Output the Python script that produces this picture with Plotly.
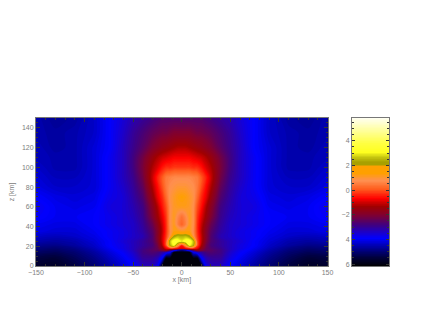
import numpy as np
import plotly.graph_objects as go

x_half = [0,4,8,12,16,20,25,30,40,50,60,75,90,110,130,150]
z_levels = [0,8,14,16,18,21,25,30,35,42,50,60,70,80,90,100,110,120,135,150]
row_z0   = [-6,-6,-6,-6,-6,-6,-3.7,-3.3,-3.3,-3.9,-4.2,-4.6,-5.0,-5.4,-5.7,-5.6]
row_z8   = [-6,-6,-6,-6,-6,-4.0,-3.2,-3.0,-3.0,-3.6,-4.0,-4.4,-4.8,-5.2,-5.5,-5.4]
row_z14  = [-6,-6,-6,-3.9,-3.4,-3.0,-2.7,-2.6,-2.8,-3.4,-3.8,-4.2,-4.6,-5.0,-5.2,-5.1]
row_z16  = [-5,-4.5,-3.5,-2.6,-1.6,-2.0,-2.4,-2.5,-2.8,-3.3,-3.7,-4.1,-4.5,-4.9,-5.1,-5.0]
row_z18  = [-0.8,-0.6,-0.3,-0.2,-0.7,-1.6,-2.3,-2.6,-2.9,-3.3,-3.6,-4.0,-4.4,-4.8,-5.0,-4.9]
row_z21  = [-0.5,1.0,3.2,2.4,0,-1.2,-2.2,-2.7,-3.0,-3.3,-3.6,-3.9,-4.3,-4.6,-4.8,-4.7]
row_z25  = [3.0,3.4,3.5,2.6,0,-1.0,-2,-2.6,-3.0,-3.3,-3.5,-3.9,-4.2,-4.5,-4.6,-4.5]
row_z30  = [2.5,2.6,2.2,0.9,-0.2,-1.0,-1.9,-2.6,-3.2,-3.4,-3.6,-3.8,-4.1,-4.3,-4.4,-4.3]
row_z35  = [1.2,1.3,1.3,0.7,-0.3,-1.1,-1.9,-2.5,-3.1,-3.4,-3.6,-3.8,-4.0,-4.2,-4.2,-4.1]
row_z42  = [0.2,0.6,1.2,0.8,-0.3,-1.0,-1.7,-2.3,-3.0,-3.4,-3.5,-3.7,-3.9,-4.1,-4.1,-4.0]
row_z50  = [0.4,0.7,1.2,0.8,-0.2,-0.8,-1.4,-2.0,-2.9,-3.3,-3.5,-3.7,-3.9,-4.0,-4.0,-3.8]
row_z60  = [1.2,1.2,1.1,0.8,0,-0.5,-1.2,-1.8,-2.8,-3.2,-3.5,-3.6,-4.0,-4.1,-4.0,-3.7]
row_z70  = [1.4,1.3,1.1,0.9,0.3,-0.3,-0.8,-1.5,-2.6,-3.1,-3.5,-3.7,-4.1,-4.2,-4.1,-3.9]
row_z80  = [1.0,1.0,0.9,0.8,0.5,0,-0.6,-1.2,-2.4,-3.0,-3.4,-3.8,-4.2,-4.3,-4.3,-4.1]
row_z90  = [0.7,0.7,0.7,0.6,0.5,0.1,-0.4,-1.0,-2.2,-2.9,-3.3,-3.8,-4.2,-4.4,-4.4,-4.2]
row_z100 = [-0.2,-0.2,-0.2,-0.3,-0.3,-0.5,-0.9,-1.2,-2.1,-2.8,-3.3,-3.8,-4.2,-4.5,-4.5,-4.3]
row_z110 = [-0.7,-0.7,-0.7,-0.8,-0.9,-1.0,-1.2,-1.5,-2.2,-2.8,-3.3,-3.8,-4.2,-4.5,-4.5,-4.4]
row_z120 = [-1.2,-1.2,-1.3,-1.4,-1.5,-1.6,-1.8,-2.0,-2.5,-2.9,-3.3,-3.9,-4.2,-4.5,-4.6,-4.4]
row_z135 = [-2.0,-2.0,-2.0,-2.1,-2.2,-2.2,-2.3,-2.4,-2.7,-3.0,-3.4,-3.9,-4.3,-4.5,-4.6,-4.5]
row_z150 = [-2.6,-2.6,-2.6,-2.6,-2.6,-2.6,-2.7,-2.8,-3,-3.2,-3.5,-3.9,-4.3,-4.6,-4.7,-4.5]
half_rows = [row_z0,row_z8,row_z14,row_z16,row_z18,row_z21,row_z25,row_z30,row_z35,row_z42,
             row_z50,row_z60,row_z70,row_z80,row_z90,row_z100,row_z110,row_z120,row_z135,row_z150]

scale_values = [-6.15,-5.4,-4.6,-3.9,-3.6,-2.8,-2.0,-1.3,-0.65,0.15,0.8,1.4,1.95,2.05,2.3,2.7,3.1,3.8,4.9,5.85]
scale_colors = ["#000000","#000040","#0000a0","#0000ff","#1000e0","#400080","#800030","#a00000","#ff0000",
                "#ff6020","#ff9050","#ffa000","#ffa000","#a8a000","#a8a000","#c8c810","#ffff20","#ffff40","#ffffa0","#fffff0"]
x_tick_vals = [-150,-100,-50,0,50,100,150]
z_tick_vals = [0,20,40,60,80,100,120,140]
bar_tick_vals = [-6,-4,-2,0,2,4]
bar_tick_text = ["6","4","\u22122","0","2","4"]

x_full = [-v for v in x_half[:0:-1]] + x_half
z_full = [r[:0:-1] + r for r in half_rows]
lo, hi = scale_values[0], scale_values[-1]
cscale = [[(v-lo)/(hi-lo), c] for v, c in zip(scale_values, scale_colors)]
bar_levels = np.linspace(lo, hi, 241)

W, H = 432, 327
L, R, T, B = 36, 389, 118, 266
fig = go.Figure()
fig.add_trace(go.Contour(x=x_full, y=z_levels, z=z_full, colorscale=cscale, zmin=lo, zmax=hi,
    contours=dict(start=lo, end=hi, size=0.08, coloring="fill", showlines=False),
    line=dict(width=0), showscale=False, hoverinfo="skip"))
fig.add_trace(go.Heatmap(x=[0,1], y=bar_levels, z=[[v,v] for v in bar_levels], colorscale=cscale,
    zmin=lo, zmax=hi, zsmooth="best", showscale=False, hoverinfo="skip", xaxis="x2", yaxis="y2"))
fnt = dict(family="Liberation Sans", size=7, color="#808080")
common = dict(showline=True, linecolor="#777777", linewidth=1, mirror="allticks", ticks="inside",
              tickcolor="#333333", tickwidth=1, showgrid=False, zeroline=False, tickfont=fnt)
pw = R - L
fig.update_layout(width=W, height=H, autosize=False, margin=dict(l=L,r=W-R,t=T,b=H-B,pad=0),
    paper_bgcolor="white", plot_bgcolor="white", showlegend=False,
    xaxis=dict(domain=[0,291.5/pw], range=[-150,150], tickvals=x_tick_vals, ticklen=4,
        minor=dict(dtick=10, ticks="inside", ticklen=2, tickcolor="#333333"),
        title=dict(text="x [km]", font=fnt, standoff=1), **common),
    yaxis=dict(domain=[0,1], range=[0,150], tickvals=z_tick_vals, ticklen=4,
        minor=dict(dtick=5, ticks="inside", ticklen=2, tickcolor="#333333"),
        title=dict(text="z [km]", font=fnt, standoff=6), **common),
    xaxis2=dict(domain=[316/pw,1], range=[0,1], showticklabels=False, showline=True,
        linecolor="#777777", mirror=True, ticks="", showgrid=False, zeroline=False, anchor="y2"),
    yaxis2=dict(domain=[0,1], range=[lo,hi], tickvals=bar_tick_vals, ticktext=bar_tick_text,
        ticklen=3, anchor="x2", minor=dict(dtick=0.5, ticks="inside", ticklen=2, tickcolor="#333333"), **common))
fig.write_html("out.html", config=dict(displayModeBar=False), post_script="document.body.style.margin='0';")
